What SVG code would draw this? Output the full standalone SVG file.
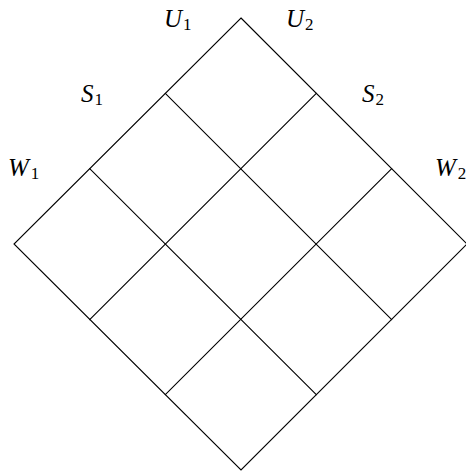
<svg xmlns="http://www.w3.org/2000/svg" width="466" height="475" viewBox="0 0 466 475">
<style>
.ln{stroke:#000;stroke-width:1.1;fill:none;stroke-linecap:round}
.lb{font-family:"Liberation Serif",serif;font-style:italic;font-size:25px;fill:#000}
.sb{font-family:"Liberation Serif",serif;font-style:normal;font-size:17px}
</style>
<rect width="466" height="475" fill="#fff"/>
<g id="diamond">
<path class="ln" d="M241,18 L467,244 L241,470 L14,244 Z"/>
</g>
<g id="connectors">
<line class="ln" x1="165.3" y1="93.3" x2="391.7" y2="319.7"/>
<line class="ln" x1="89.7" y1="168.7" x2="316.3" y2="394.7"/>
<line class="ln" x1="316.3" y1="93.3" x2="89.7" y2="319.7"/>
<line class="ln" x1="391.7" y1="168.7" x2="165.3" y2="394.7"/>
</g>
<g id="labels">
<text class="lb" x="164" y="26.5">U<tspan class="sb" dx="1" dy="3">1</tspan></text>
<text class="lb" x="286" y="26.5">U<tspan class="sb" dx="1" dy="3">2</tspan></text>
<text class="lb" x="81" y="101.5">S<tspan class="sb" dx="1" dy="3">1</tspan></text>
<text class="lb" x="362" y="101.5">S<tspan class="sb" dx="1" dy="3">2</tspan></text>
<text class="lb" x="8" y="175.5">W<tspan class="sb" dx="2" dy="3">1</tspan></text>
<text class="lb" x="435" y="175.5">W<tspan class="sb" dx="2" dy="3">2</tspan></text>
</g>
</svg>
